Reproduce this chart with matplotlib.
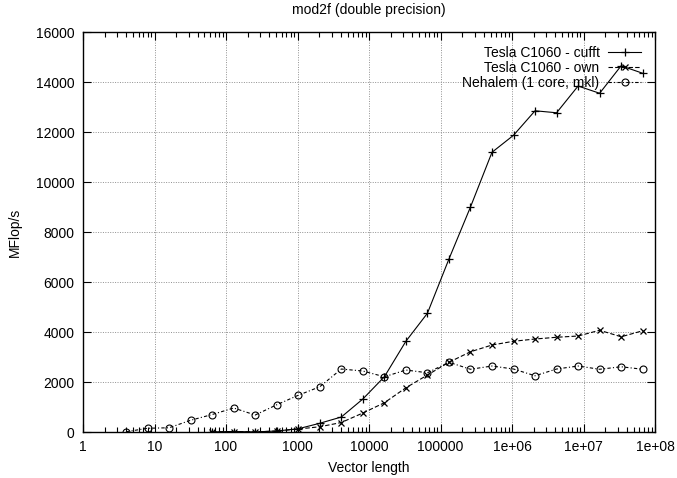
import matplotlib
matplotlib.use("Agg")
import matplotlib.pyplot as plt
from matplotlib.ticker import FixedLocator, LogLocator, NullFormatter

plt.rcParams['font.family'] = ['Liberation Sans', 'DejaVu Sans']
plt.rcParams['font.size'] = 10

# vector lengths (powers of two)
n_cpu = [4, 8, 16, 32, 64, 128, 256, 512, 1024, 2048, 4096, 8192, 16384,
         32768, 65536, 131072, 262144, 524288, 1048576, 2097152, 4194304,
         8388608, 16777216, 33554432, 67108864]
n_gpu = [64, 128, 256, 512, 1024, 2048, 4096, 8192, 16384, 32768, 65536,
         131072, 262144, 524288, 1048576, 2097152, 4194304, 8388608,
         16777216, 33554432, 67108864]

cufft = [5, 20, 5, 40, 130, 350, 600, 1320, 2210, 3630, 4750, 6920, 9000,
         11190, 11870, 12850, 12770, 13840, 13550, 14650, 14350]
own = [5, 20, 5, 40, 120, 210, 380, 760, 1170, 1770, 2280, 2790, 3210,
       3480, 3630, 3720, 3790, 3840, 4070, 3810, 4050]
nehalem = [10, 150, 170, 470, 700, 960, 680, 1090, 1470, 1810, 2520, 2440,
           2210, 2480, 2370, 2790, 2510, 2640, 2520, 2250, 2520, 2640, 2510,
           2610, 2510]

xticks = [1, 10, 100, 1000, 10000, 100000, 1e6, 1e7, 1e8]
xticklabels = ["1", "10", "100", "1000", "10000", "100000", "1e+06", "1e+07", "1e+08"]
yticks = [0, 2000, 4000, 6000, 8000, 10000, 12000, 14000, 16000]

fig = plt.figure(figsize=(6.77, 4.78), dpi=100)
ax = fig.add_axes([0.1226, 0.0962, 0.845, 0.8368])

ax.plot(n_gpu, cufft, color="black", lw=0.8, marker="+", ms=6, mew=0.9,
        label="Tesla C1060 - cufft")
ax.plot(n_gpu, own, color="black", lw=0.8, ls=(0, (4, 2)), marker="x", ms=5,
        mew=0.9, label="Tesla C1060 - own")
ax.plot(n_cpu, nehalem, color="black", lw=0.8, ls=(0, (3, 2, 1, 2)), marker="o",
        ms=5, mfc="none", mew=0.8, label="Nehalem (1 core, mkl)")

ax.set_xscale("log")
ax.set_xlim(1, 1e8)
ax.set_ylim(0, 16000)
ax.xaxis.set_major_locator(FixedLocator(xticks))
ax.set_xticklabels(xticklabels)
ax.xaxis.set_minor_locator(LogLocator(base=10, subs=range(2, 10), numticks=20))
ax.xaxis.set_minor_formatter(NullFormatter())
ax.set_yticks(yticks)

ax.tick_params(which="both", direction="in", top=True, right=True, color="black")
ax.tick_params(which="major", length=6, width=0.8, pad=6)
ax.tick_params(which="minor", length=3.5, width=0.8)
for s in ax.spines.values():
    s.set_linewidth(1.0)

ax.grid(True, which="major", color="#909090", ls=(0, (1, 1.5)), lw=0.7)

ax.set_title("mod2f (double precision)", fontsize=10, pad=13)
ax.set_xlabel("Vector length", labelpad=5)
ax.set_ylabel("MFlop/s", labelpad=10)

leg = ax.legend(loc="upper right", frameon=False, markerfirst=False,
                handlelength=2.4, handletextpad=0.6, labelspacing=0.08,
                borderaxespad=0.6, fontsize=10)
leg._legend_handle_box.get_children()[0].align = "right"

fig.savefig("out.png", dpi=100)
